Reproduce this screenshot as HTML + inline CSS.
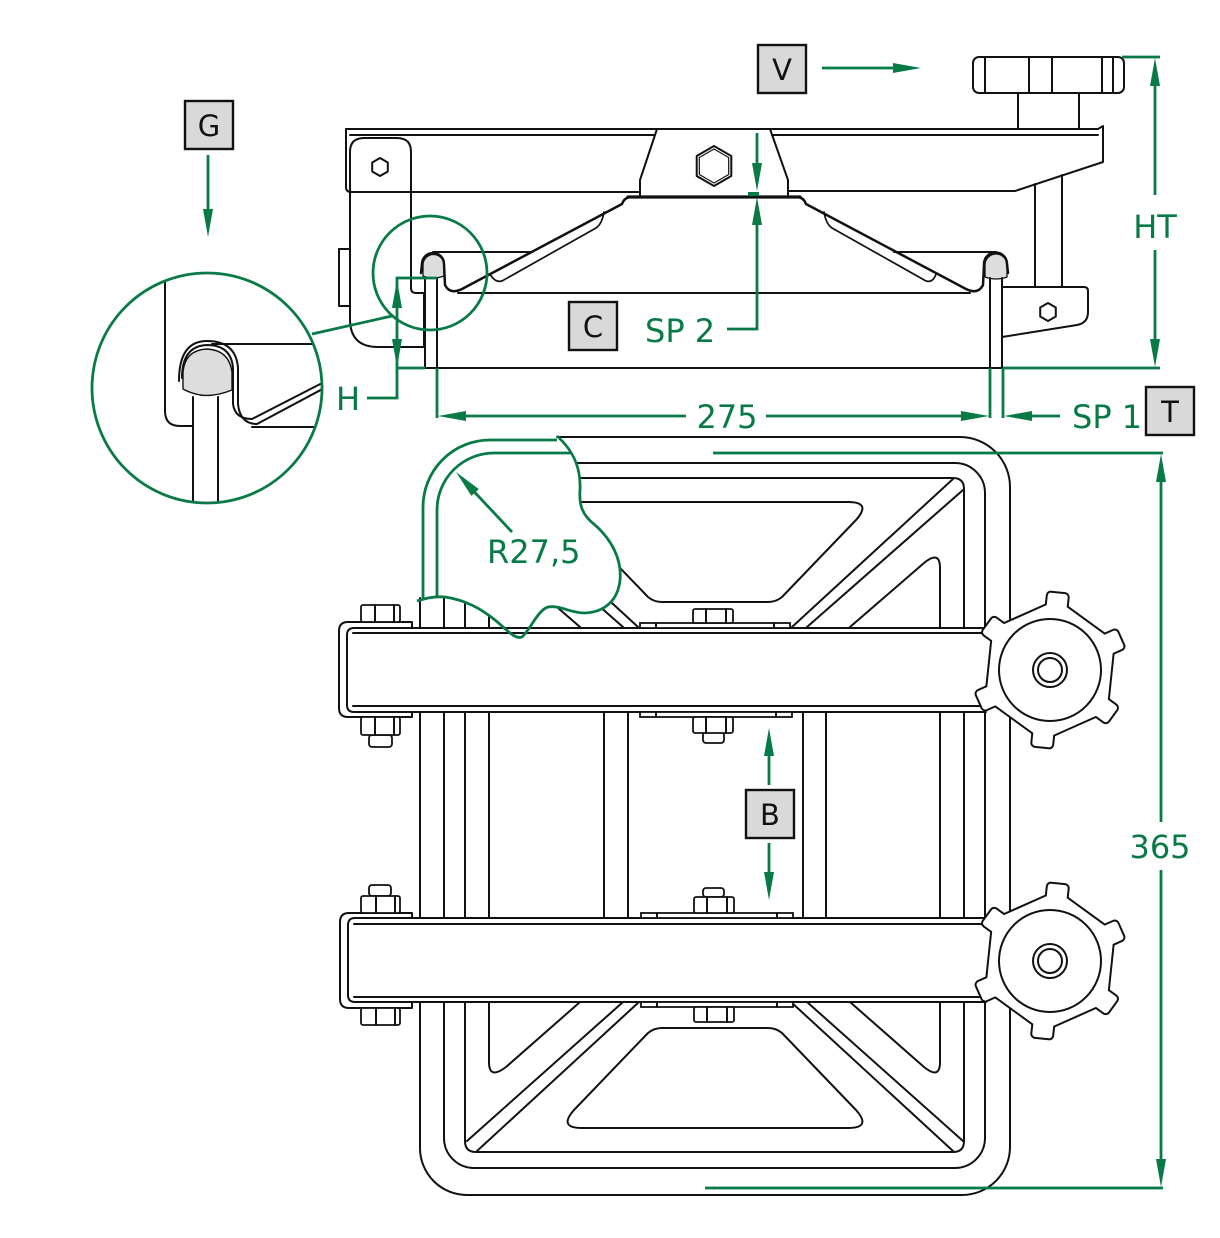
<!DOCTYPE html>
<html><head><meta charset="utf-8"><style>
html,body{margin:0;padding:0;background:#fff;}
svg{display:block}
.k{fill:none;stroke:#111;stroke-width:2;stroke-linejoin:round;stroke-linecap:round}
.g{fill:none;stroke:#087a46;stroke-width:2.8}
.ga{fill:#087a46;stroke:none}
.t{font-family:"DejaVu Sans","Liberation Sans",sans-serif;fill:#087a46;font-size:32px}
.bx{fill:#d9d9d9;stroke:#111;stroke-width:2.4}
.bt{font-family:"DejaVu Sans","Liberation Sans",sans-serif;fill:#111;font-size:29px;text-anchor:middle}
.nut{fill:#fff;stroke:#111;stroke-width:1.8}
</style></head><body>
<svg width="1220" height="1238" viewBox="0 0 1220 1238" xmlns="http://www.w3.org/2000/svg">
<defs>
<g id="ks">
<polygon points="7.3,-69.6 63.9,-28.5 56.6,41.1 -7.3,69.6 -63.9,28.5 -56.6,-41.1"/>
<rect x="50" y="-10" width="27" height="20" rx="3" transform="rotate(-84)"/>
<rect x="50" y="-10" width="27" height="20" rx="3" transform="rotate(-24)"/>
<rect x="50" y="-10" width="27" height="20" rx="3" transform="rotate(36)"/>
<rect x="50" y="-10" width="27" height="20" rx="3" transform="rotate(96)"/>
<rect x="50" y="-10" width="27" height="20" rx="3" transform="rotate(156)"/>
<rect x="50" y="-10" width="27" height="20" rx="3" transform="rotate(216)"/>
</g>
<clipPath id="cc"><circle cx="207" cy="388" r="114"/></clipPath>
</defs>

<!-- ================= TOP (SIDE) VIEW ================= -->
<g class="k">
<path d="M346,129 H1098 L1103,126 V162 L1015,191 H788"/>
<path d="M346,129 V187 Q346,192 351,192 H640"/>
<path d="M350,135 H655 M772,135 H1098"/>
<path d="M657,129 L640,180 V197 M770,129 L788,180 V197"/>
<polygon points="714,146 731.3,156 731.3,176 714,186 696.7,176 696.7,156"/>
<polygon points="714,149 728.7,157.5 728.7,174.5 714,183 699.3,174.5 699.3,157.5" stroke-width="1.2"/>
<path d="M411,288 V152 Q411,138 397,138 H364 Q350,138 350,152 V319 Q350,347 378,347 H424 V293 H416 Q411,293 411,288"/>
<polygon points="380,158 387.8,162.5 387.8,171.5 380,176 372.2,171.5 372.2,162.5"/>
<path d="M350,249 H339 V306 H350"/>
<path d="M1035,184 V287 M1062,175 V287"/>
<path d="M1002,287 H1084 Q1088,287 1088,291 V312 Q1088,323 1077,325 L1002,337"/>
<polygon points="1048,303 1055.8,307.5 1055.8,316.5 1048,321 1040.2,316.5 1040.2,307.5"/>
<rect x="973" y="57" width="151" height="36" rx="6"/>
<path d="M985,58 V92 M1029,57 V93 M1052,57 V93 M1102,57 V93 M1113,58 V92"/>
<path d="M1018,93 V129 M1079,93 V129"/>
<!-- lid -->
<path d="M433,252 H532 M894,252 H996"/>
<path d="M458,293 H970"/>
<path fill="#ddd" stroke-width="1.3" d="M423,276 V265 A10.5,10.5 0 0 1 444,265 V276 Q433,280 423,276 Z"/>
<path fill="#ddd" stroke-width="1.3" d="M985,277 V265 A11,11 0 0 1 1007,265 V277 Q996,281 985,277 Z"/>
<path d="M628,197 H800" stroke-width="3.2"/>
<path stroke-width="2.5" d="M630,197 Q624,198 622,204 L462,289 Q450,295 445,285 L444,264 A11,11 0 0 0 422,264 L421,273"/>
<path stroke-width="2.5" d="M798,197 Q804,198 806,204 L966,289 Q978,295 983,285 L984,264 A11.5,11.5 0 0 1 1007,264 L1008,273"/>
<path stroke-width="1.7" d="M604,212 Q602,224 596,228 L502,281 Q495,283 490,274"/>
<path stroke-width="1.7" d="M824,212 Q826,224 832,228 L926,281 Q933,283 936,274"/>
<path d="M425,278 V368 M437,278 V368 M990,278 V368 M1002,278 V368"/>
<path d="M424,368 H1003"/>
</g>

<!-- big detail circle contents -->
<g clip-path="url(#cc)" class="k">
<path d="M165,260 V411 Q165,426 180,426 H193"/>
<path d="M193,397 V520 M218,397 V520"/>
<path d="M212,344 H330"/>
<path d="M252,427 H330"/>
<path fill="#ddd" stroke-width="1.4" d="M183,389 V372 Q185,350 207,349 Q229,350 232,372 V390 Q215,397 200,395 Q190,393 183,389 Z"/>
<path d="M182,378 Q182,346 207,345 Q231,345 233,368 L233,404 Q235,419 252,419 L330,379"/>
<path d="M179,381 Q179,341 207,341 Q236,341 238,368 L238,404 Q240,424 257,424 L330,385"/>
</g>

<!-- ================= PLAN VIEW ================= -->
<g class="k">
<path d="M557,437 H960 A50,50 0 0 1 1010,487 V1147 A48,48 0 0 1 962,1195 H467 A47,47 0 0 1 420,1148 V598"/>
<path d="M474,463 H955 A30,30 0 0 1 985,493 V1138 A30,30 0 0 1 955,1168 H474 A30,30 0 0 1 444,1138 V493 A30,30 0 0 1 474,463 Z"/>
<path d="M476,478 H953 Q964,478 964,489 V1141 Q964,1152 953,1152 H476 Q465,1152 465,1141 V489 Q465,478 476,478 Z"/>
<path d="M953,479 L792,627 M963,490 L807,627 M477,479 L638,627 M467,490 L623,627"/>
<path d="M623,1002 L467,1141 M639,1002 L477,1151 M791,1002 L953,1151 M807,1002 L963,1141"/>
<path d="M850,627 L924,563 Q940,550 940,568 V1062 Q940,1080 924,1067 L850,1002"/>
<path d="M580,627 L506,563 Q489,550 489,568 V1062 Q489,1080 506,1067 L580,1002"/>
<path d="M582,502 H848 Q872,502 856,520 L782,597 Q776,602 768,602 H662 Q654,602 648,597 L574,520 Q558,502 582,502 Z"/>
<path d="M582,1128 H848 Q872,1128 856,1110 L782,1033 Q776,1028 768,1028 H662 Q654,1028 648,1033 L574,1110 Q558,1128 582,1128 Z"/>
<path d="M604,712 V918 M628,712 V918 M803,712 V918 M826,712 V918"/>
</g>

<!-- cutaway blob -->
<path fill="#fff" stroke="none" d="M423,601 V507 A67,67 0 0 1 490,440 H557 C575,452 581,470 580,490 C579,505 582,515 595,525 C612,540 622,560 620,580 C618,600 605,612 585,613 C570,613 560,605 548,607 C538,610 530,630 522,637 C515,640 505,628 495,620 C480,608 465,600 445,597 C432,596 424,599 417,601 Z"/>
<path class="g" d="M423,600 V507 A67,67 0 0 1 490,440 H557"/>
<path class="g" d="M437,597 V510 A57,57 0 0 1 494,453 H571"/>

<!-- bar 1 -->
<path fill="#fff" stroke="none" d="M339,622 H412 V628 H986 V712 H412 V717 H339 Z"/>
<g class="k">
<path d="M412,628 V622 H348 Q339,622 339,631 V708 Q339,717 348,717 H412 V712"/>
<path d="M986,628 H354 Q347,628 347,635 V705 Q347,712 354,712 H986"/>
<path d="M353,633 H986 M353,706 H986"/>
</g>
<rect class="nut" x="640" y="623" width="150" height="5"/>
<path class="k" d="M656,623 V628 M774,623 V628"/>
<rect class="nut" x="640" y="712" width="152" height="5"/>
<path class="k" d="M656,712 V717 M776,712 V717"/>
<rect class="nut" x="361" y="605" width="39" height="17" rx="2"/>
<path class="k" d="M375,605 V622 M394,605 V622"/>
<rect class="nut" x="693" y="609" width="40" height="14" rx="2"/>
<path class="k" d="M706,609 V623 M726,609 V623"/>
<rect class="nut" x="369" y="735" width="23" height="12" rx="3"/>
<rect class="nut" x="361" y="717" width="39" height="18" rx="2"/>
<path class="k" d="M375,717 V735 M394,717 V735"/>
<rect class="nut" x="703" y="732" width="21" height="11" rx="3"/>
<rect class="nut" x="693" y="717" width="40" height="16" rx="2"/>
<path class="k" d="M706,717 V733 M726,717 V733"/>

<!-- bar 2 -->
<path fill="#fff" stroke="none" d="M340,913 H412 V918 H986 V1002 H412 V1008 H340 Z"/>
<g class="k">
<path d="M412,918 V913 H349 Q340,913 340,922 V999 Q340,1008 349,1008 H412 V1002"/>
<path d="M986,918 H355 Q348,918 348,925 V995 Q348,1002 355,1002 H986"/>
<path d="M354,924 H986 M354,997 H986"/>
</g>
<rect class="nut" x="641" y="913" width="152" height="5"/>
<path class="k" d="M657,913 V918 M777,913 V918"/>
<rect class="nut" x="641" y="1002" width="152" height="5"/>
<path class="k" d="M657,1002 V1007 M777,1002 V1007"/>
<rect class="nut" x="369" y="885" width="22" height="11" rx="3"/>
<rect class="nut" x="361" y="896" width="39" height="17" rx="2"/>
<path class="k" d="M376,896 V913 M395,896 V913"/>
<rect class="nut" x="703" y="888" width="21" height="9" rx="3"/>
<rect class="nut" x="694" y="897" width="40" height="16" rx="2"/>
<path class="k" d="M707,897 V913 M727,897 V913"/>
<rect class="nut" x="361" y="1008" width="39" height="17" rx="2"/>
<path class="k" d="M376,1008 V1025 M395,1008 V1025"/>
<rect class="nut" x="694" y="1007" width="40" height="15" rx="2"/>
<path class="k" d="M707,1007 V1022 M727,1007 V1022"/>

<!-- knobs -->
<g transform="translate(1050,670)">
<use href="#ks" fill="#fff" stroke="#111" stroke-width="4" stroke-linejoin="round"/>
<use href="#ks" fill="#fff" stroke="none"/>
<circle class="k" r="51"/><circle class="k" r="17"/><circle class="k" r="12"/>
</g>
<g transform="translate(1050,961)">
<use href="#ks" fill="#fff" stroke="#111" stroke-width="4" stroke-linejoin="round"/>
<use href="#ks" fill="#fff" stroke="none"/>
<circle class="k" r="51"/><circle class="k" r="17"/><circle class="k" r="12"/>
</g>

<!-- ================= GREEN ANNOTATIONS ================= -->
<path class="g" d="M557,436 C575,452 581,470 580,490 C579,505 582,515 595,525 C612,540 622,560 620,580 C618,600 605,612 585,613 C570,613 560,605 548,607 C538,610 530,630 522,637 C515,640 505,628 495,620 C480,608 465,600 445,597 C432,596 424,599 417,601"/>

<circle class="g" cx="430" cy="273" r="57"/>
<circle class="g" cx="207" cy="388" r="115"/>
<path class="g" d="M312,334 L392,316"/>

<!-- V -->
<path class="g" d="M822,68 H900"/>
<polygon class="ga" points="921,68 893,63 893,73"/>
<!-- G -->
<path class="g" d="M208,155 V215"/>
<polygon class="ga" points="208,237 203,209 213,209"/>
<!-- SP2 -->
<path class="g" d="M757,133 V170"/>
<polygon class="ga" points="757,191 752,163 762,163"/>
<path class="g" d="M757,210 V329 H727"/>
<polygon class="ga" points="757,197 752,225 762,225"/>
<rect class="ga" x="748" y="192" width="11" height="4"/>
<!-- H -->
<path class="g" d="M437,278 H397 V398 H367 M397,368 H425"/>
<polygon class="ga" points="397,280 392,308 402,308"/>
<polygon class="ga" points="397,367 392,339 402,339"/>
<!-- 275 -->
<path class="g" d="M437,368 V418 M990,368 V418 M1003,368 V418"/>
<path class="g" d="M450,416 H686 M766,416 H975"/>
<polygon class="ga" points="438,416 466,411 466,421"/>
<polygon class="ga" points="989,416 961,411 961,421"/>
<!-- SP1 -->
<path class="g" d="M1015,416 H1060"/>
<polygon class="ga" points="1004,416 1032,411 1032,421"/>
<!-- HT -->
<path class="g" d="M1122,57 H1160 M1003,368 H1160 M1155,70 V195 M1155,250 V355"/>
<polygon class="ga" points="1155,58 1150,86 1160,86"/>
<polygon class="ga" points="1155,367 1150,339 1160,339"/>
<!-- 365 -->
<path class="g" d="M713,453 H1163 M705,1188 H1163 M1161,465 V822 M1161,870 V1175"/>
<polygon class="ga" points="1161,454 1156,482 1166,482"/>
<polygon class="ga" points="1161,1187 1156,1159 1166,1159"/>
<!-- B -->
<path class="g" d="M769,740 V785 M769,843 V885"/>
<polygon class="ga" points="769,728 764,756 774,756"/>
<polygon class="ga" points="769,900 764,872 774,872"/>
<!-- R -->
<path class="g" d="M465,482 L512,532"/>
<polygon class="ga" points="456,472 471.4,495.9 478.8,489.1"/>

<!-- texts -->
<text class="t" x="727" y="428" text-anchor="middle">275</text>
<text class="t" x="645" y="342">SP 2</text>
<text class="t" x="1072" y="428">SP 1</text>
<text class="t" x="336" y="410">H</text>
<text class="t" x="1155" y="238" text-anchor="middle">HT</text>
<text class="t" x="1160" y="858" text-anchor="middle">365</text>
<text class="t" x="487" y="563">R27,5</text>

<!-- boxes -->
<rect class="bx" x="758" y="45" width="48" height="48"/><text class="bt" x="782" y="80">V</text>
<rect class="bx" x="185" y="101" width="48" height="48"/><text class="bt" x="209" y="136">G</text>
<rect class="bx" x="569" y="302" width="48" height="48"/><text class="bt" x="593" y="337">C</text>
<rect class="bx" x="1146" y="387" width="48" height="48"/><text class="bt" x="1170" y="422">T</text>
<rect class="bx" x="746" y="790" width="48" height="48"/><text class="bt" x="770" y="825">B</text>
</svg>
</body></html>
